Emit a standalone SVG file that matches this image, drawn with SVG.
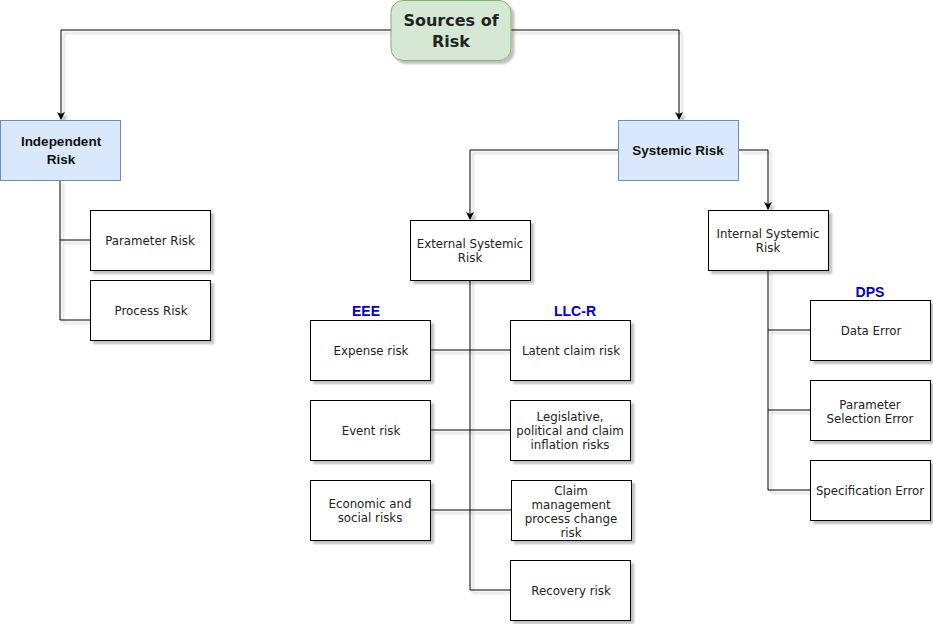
<svg xmlns="http://www.w3.org/2000/svg" width="933" height="624" viewBox="0 0 933 624">
<defs>
<filter id="sh" x="-10%" y="-10%" width="130%" height="130%">
<feGaussianBlur in="SourceAlpha" stdDeviation="1"/>
<feOffset dx="3" dy="3" result="o"/>
<feComponentTransfer><feFuncA type="linear" slope="0.25"/></feComponentTransfer>
<feMerge><feMergeNode/><feMergeNode in="SourceGraphic"/></feMerge>
</filter>
<marker id="arr" markerWidth="8" markerHeight="8" refX="7" refY="4" orient="auto" markerUnits="userSpaceOnUse">
<path d="M0,0 L8,4 L0,8 L2,4 Z" fill="#000"/>
</marker>
<style>
.box{fill:#fff;stroke:#000;stroke-width:1;filter:url(#sh)}
.blue{fill:#dae8fc;stroke:#6c8ebf;stroke-width:1}
.t{font-family:"DejaVu Sans",Verdana,sans-serif;font-size:11.8px;fill:#222;text-anchor:middle}
.hb{font-family:"Liberation Sans",Arial,sans-serif;font-size:13.5px;font-weight:bold;fill:#111;text-anchor:middle}
.lab{font-family:"Liberation Sans",Arial,sans-serif;font-size:14px;font-weight:bold;fill:#0000cc;text-anchor:middle}
.c{fill:none;stroke:#000;stroke-width:1}
</style>
</defs>
<rect width="933" height="624" fill="#fff"/>
<g id="connectors" class="c" filter="url(#sh)">
<path d="M391,30 H61 V119" marker-end="url(#arr)"/>
<path d="M511,30 H679 V119" marker-end="url(#arr)"/>
<path d="M618,150 H470 V219" marker-end="url(#arr)"/>
<path d="M738,150 H768 V209" marker-end="url(#arr)"/>
<path d="M60,180 V320 H90 M60,240 H90"/>
<path d="M470,280 V590 H510 M430,350 H510 M430,430 H510 M430,510 H511"/>
<path d="M768,270 V490 H810 M768,330 H810 M768,410 H810"/>
</g>
<g id="sources">
<rect x="391" y="0.5" width="120" height="60" rx="12" fill="#d5e8d4" stroke="#82b366" filter="url(#sh)"/>
<text x="451" y="26" font-family="'DejaVu Sans',Verdana,sans-serif" font-size="16" font-weight="bold" text-anchor="middle" fill="#222">Sources of</text>
<text x="451" y="47" font-family="'DejaVu Sans',Verdana,sans-serif" font-size="16" font-weight="bold" text-anchor="middle" fill="#222">Risk</text>
</g>
<g id="independent">
<rect class="blue" x="0.5" y="120.5" width="120" height="60"/>
<text class="hb" x="61" y="146">Independent</text>
<text class="hb" x="61" y="164">Risk</text>
</g>
<g id="systemic">
<rect class="blue" x="618.5" y="120.5" width="120" height="60"/>
<text class="hb" x="678" y="155">Systemic Risk</text>
</g>
<g id="parameter-risk">
<rect class="box" x="90.5" y="210.5" width="120" height="60"/>
<text class="t" x="150" y="245">Parameter Risk</text>
</g>
<g id="process-risk">
<rect class="box" x="90.5" y="280.5" width="120" height="60"/>
<text class="t" x="151" y="315">Process Risk</text>
</g>
<g id="external">
<rect class="box" x="410.5" y="220.5" width="120" height="60"/>
<text class="t" x="470" y="248">External Systemic</text>
<text class="t" x="470" y="262">Risk</text>
</g>
<g id="internal">
<rect class="box" x="708.5" y="210.5" width="120" height="60"/>
<text class="t" x="768" y="238">Internal Systemic</text>
<text class="t" x="768" y="252">Risk</text>
</g>
<g id="label-eee"><text class="lab" x="366" y="316">EEE</text></g>
<g id="label-llcr"><text class="lab" x="575" y="316">LLC-R</text></g>
<g id="label-dps"><text class="lab" x="870" y="297">DPS</text></g>
<g id="expense">
<rect class="box" x="310.5" y="320.5" width="120" height="60"/>
<text class="t" x="371" y="355">Expense risk</text>
</g>
<g id="event">
<rect class="box" x="310.5" y="400.5" width="120" height="60"/>
<text class="t" x="371" y="435">Event risk</text>
</g>
<g id="economic">
<rect class="box" x="310.5" y="480.5" width="120" height="60"/>
<text class="t" x="370" y="508">Economic and</text>
<text class="t" x="370" y="522">social risks</text>
</g>
<g id="latent">
<rect class="box" x="510.5" y="320.5" width="120" height="60"/>
<text class="t" x="571" y="355">Latent claim risk</text>
</g>
<g id="legislative">
<rect class="box" x="510.5" y="400.5" width="120" height="60"/>
<text class="t" x="570" y="421">Legislative,</text>
<text class="t" x="570" y="435">political and claim</text>
<text class="t" x="570" y="449">inflation risks</text>
</g>
<g id="claim-management">
<rect class="box" x="511.5" y="480.5" width="120" height="60"/>
<text class="t" x="571" y="495">Claim</text>
<text class="t" x="571" y="509">management</text>
<text class="t" x="571" y="523">process change</text>
<text class="t" x="571" y="537">risk</text>
</g>
<g id="recovery">
<rect class="box" x="510.5" y="560.5" width="120" height="60"/>
<text class="t" x="571" y="595">Recovery risk</text>
</g>
<g id="data-error">
<rect class="box" x="810.5" y="300.5" width="120" height="60"/>
<text class="t" x="871" y="335">Data Error</text>
</g>
<g id="parameter-selection">
<rect class="box" x="810.5" y="380.5" width="120" height="60"/>
<text class="t" x="870" y="409">Parameter</text>
<text class="t" x="870" y="423">Selection Error</text>
</g>
<g id="specification">
<rect class="box" x="810.5" y="460.5" width="120" height="60"/>
<text class="t" x="870" y="495">Specification Error</text>
</g>
</svg>
